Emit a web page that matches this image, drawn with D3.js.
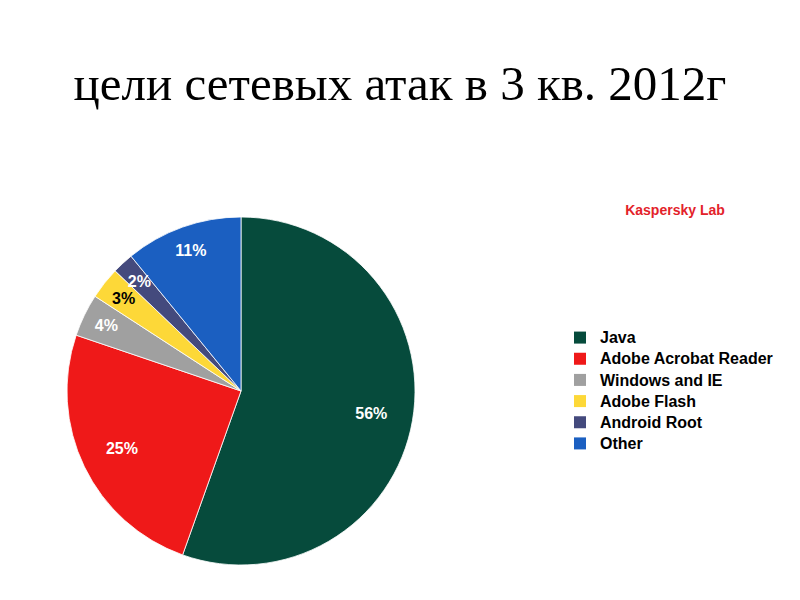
<!DOCTYPE html>
<html>
<head>
<meta charset="utf-8">
<script src="https://cdn.jsdelivr.net/npm/d3@7"></script>
<style>
  body { margin: 0; background: #fff; }
</style>
</head>
<body>
<div class="D3"></div>
<script>
//chart data
var categories = ["Java", "Adobe Acrobat Reader", "Windows and IE", "Adobe Flash", "Android Root", "Other"];
var shares = [56, 25, 4, 3, 2, 11];
var sliceColors = ["#064b3c", "#ef1919", "#a0a0a0", "#fdd838", "#444a7d", "#1b5fc1"];
var labelColors = ["#fff", "#fff", "#fff", "#000", "#fff", "#fff"];

var svgWidth = 800;
var svgHeight = 600;

var svg = d3.select(".D3")
  .append("svg")
  .attr("width", svgWidth)
  .attr("height", svgHeight);

//title
svg.append("text")
  .attr("x", 400)
  .attr("y", 100)
  .attr("text-anchor", "middle")
  .style("font-family", "'Liberation Serif', 'Times New Roman', serif")
  .style("font-size", "49px")
  .text("цели сетевых атак в 3 кв. 2012г");

//pie
var radius = 174;
var pieGroup = svg.append("g")
  .attr("transform", "translate(241, 391)");

var pie = d3.pie().sort(null).value(d => d);
var arc = d3.arc().innerRadius(0).outerRadius(radius);
//big slices get labels nearer the middle, thin ones nearer the rim
var bigLabelArc = d3.arc().innerRadius(radius * 0.76).outerRadius(radius * 0.76);
var smallLabelArc = d3.arc().innerRadius(radius * 0.86).outerRadius(radius * 0.86);

var slices = pie(shares);

pieGroup.selectAll("path")
  .data(slices)
  .enter()
  .append("path")
  .attr("d", arc)
  .attr("fill", (d, i) => sliceColors[i])
  .attr("stroke", "#fff")
  .attr("stroke-width", 0.8);

pieGroup.selectAll("text")
  .data(slices)
  .enter()
  .append("text")
  .attr("transform", d => `translate(${(d.data > 20 ? bigLabelArc : smallLabelArc).centroid(d)})`)
  .attr("text-anchor", "middle")
  .attr("dy", "0.35em")
  .attr("fill", (d, i) => labelColors[i])
  .style("font-family", "'Liberation Sans', Arial, sans-serif")
  .style("font-weight", "bold")
  .style("font-size", "16px")
  .text(d => d.data + "%");

//brand
svg.append("text")
  .attr("x", 675)
  .attr("y", 215)
  .attr("text-anchor", "middle")
  .attr("fill", "#e3222a")
  .style("font-family", "'Liberation Sans', Arial, sans-serif")
  .style("font-weight", "bold")
  .style("font-size", "14px")
  .text("Kaspersky Lab");

//legend
var legendY = d3.scaleBand()
  .domain(categories)
  .range([327, 454]);

var legend = svg.append("g")
  .selectAll("g")
  .data(categories)
  .enter()
  .append("g")
  .attr("transform", d => `translate(574, ${legendY(d)})`);

legend.append("rect")
  .attr("width", 12)
  .attr("height", 12)
  .attr("y", (legendY.bandwidth() - 12) / 2)
  .attr("fill", (d, i) => sliceColors[i]);

legend.append("text")
  .attr("x", 26)
  .attr("y", legendY.bandwidth() / 2)
  .attr("dy", "0.36em")
  .style("font-family", "'Liberation Sans', Arial, sans-serif")
  .style("font-weight", "bold")
  .style("font-size", "16px")
  .text(d => d);
</script>
</body>
</html>
